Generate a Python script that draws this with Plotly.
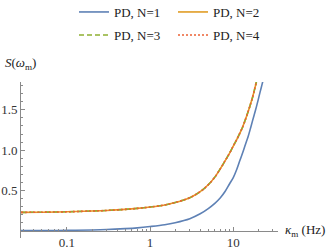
import plotly.graph_objects as go
import math

# kappa_m (Hz) sample points
kappa_n1 = [0.028, 0.05, 0.1, 0.2, 0.3, 0.5, 0.7, 1, 1.5, 2, 3, 4, 5, 6, 7, 8, 9, 10,
            11, 12, 13, 14, 15, 16, 17, 18, 19, 20, 21, 22, 23]
s_n1 = [0.001, 0.0025, 0.005, 0.010, 0.015, 0.026, 0.036, 0.052, 0.075, 0.10, 0.15, 0.21,
        0.275, 0.34, 0.41, 0.49, 0.58, 0.66, 0.76, 0.87, 0.97, 1.07, 1.16, 1.26, 1.36,
        1.45, 1.54, 1.63, 1.72, 1.80, 1.88]

kappa_n2 = [0.028, 0.05, 0.1, 0.2, 0.3, 0.5, 0.7, 1, 1.5, 2, 3, 4, 5, 6, 7, 8, 9, 10,
            11, 12, 13, 14, 15, 16, 17, 18, 19, 20]
s_n2 = [0.228, 0.230, 0.235, 0.245, 0.252, 0.265, 0.277, 0.294, 0.32, 0.35, 0.41, 0.485,
        0.57, 0.665, 0.77, 0.87, 0.96, 1.05, 1.13, 1.21, 1.29, 1.38, 1.47, 1.56, 1.65,
        1.75, 1.85, 1.95]

# N=3 and N=4 coincide with N=2 in the reference
s_n3 = list(s_n2)
s_n4 = list(s_n2)

series_names = ["PD, N=1", "PD, N=2", "PD, N=3", "PD, N=4"]
colors = ["#5E81B5", "#E19C24", "#8FB032", "#EB6235"]

x_major = [0.1, 1, 10]
x_major_text = ["0.1", "1", "10"]
x_minor = [0.03, 0.04, 0.05, 0.06, 0.07, 0.08, 0.09, 0.2, 0.3, 0.4, 0.5, 0.6, 0.7, 0.8,
           0.9, 2, 3, 4, 5, 6, 7, 8, 9, 20, 30]
y_major = [0.5, 1.0, 1.5]
y_major_text = ["0.5", "1.0", "1.5"]
y_minor = [0.1, 0.2, 0.3, 0.4, 0.6, 0.7, 0.8, 0.9, 1.1, 1.2, 1.3, 1.4, 1.6, 1.7, 1.8]

FONT = "Liberation Serif, Times New Roman, serif"
AX = "#8a8a8a"

fig = go.Figure()
fig.add_trace(go.Scatter(x=kappa_n1, y=s_n1, mode="lines", name=series_names[0], legend="legend",
                         line=dict(color=colors[0], width=1.6, shape="spline")))
fig.add_trace(go.Scatter(x=kappa_n2, y=s_n2, mode="lines", name=series_names[1], legend="legend2",
                         line=dict(color=colors[1], width=1.6, shape="spline")))
fig.add_trace(go.Scatter(x=kappa_n2, y=s_n3, mode="lines", name=series_names[2], legend="legend3",
                         line=dict(color=colors[2], width=1.6, dash="5px,3px", shape="spline")))
fig.add_trace(go.Scatter(x=kappa_n2, y=s_n4, mode="lines", name=series_names[3], legend="legend4",
                         line=dict(color=colors[3], width=1.6, dash="2px,2px", shape="spline")))

ymin, ymax = -0.09, 1.845
xpos = (0 - ymin) / (ymax - ymin)

W, H = 332, 252
leg_common = dict(orientation="h", xref="container", yref="container",
                  xanchor="left", yanchor="middle",
                  font=dict(family=FONT, size=13, color="#222222"),
                  bgcolor="rgba(0,0,0,0)")
col_x = [74 / W, 173 / W]
row_y = [1 - 12 / H, 1 - 35 / H]

fig.update_layout(
    width=W, height=H,
    margin=dict(l=21, r=54, t=82, b=14, autoexpand=False),
    paper_bgcolor="white", plot_bgcolor="white",
    font=dict(family=FONT, size=13, color="#333333"),
    showlegend=True,
    legend=dict(x=col_x[0], y=row_y[0], **leg_common),
    legend2=dict(x=col_x[1], y=row_y[0], **leg_common),
    legend3=dict(x=col_x[0], y=row_y[1], **leg_common),
    legend4=dict(x=col_x[1], y=row_y[1], **leg_common),
    xaxis=dict(type="log", range=[math.log10(0.028), math.log10(34.5)],
               anchor="free", position=xpos,
               showline=True, linecolor=AX, linewidth=1,
               showgrid=False, zeroline=False,
               tickmode="array", tickvals=x_major, ticktext=x_major_text,
               ticks="inside", ticklen=4, tickcolor=AX, tickwidth=1,
               minor=dict(tickmode="array", tickvals=x_minor, ticks="inside",
                          ticklen=2, tickcolor=AX, tickwidth=1, showgrid=False),
               tickfont=dict(family=FONT, size=13, color="#333333")),
    yaxis=dict(range=[ymin, ymax],
               showline=True, linecolor=AX, linewidth=1,
               showgrid=False, zeroline=False,
               tickmode="array", tickvals=y_major, ticktext=y_major_text,
               ticks="inside", ticklen=4, tickcolor=AX, tickwidth=1,
               minor=dict(tickmode="array", tickvals=y_minor, ticks="inside",
                          ticklen=2, tickcolor=AX, tickwidth=1, showgrid=False),
               tickfont=dict(family=FONT, size=13, color="#333333")),
    annotations=[
        dict(text="<i>S</i>(<i>ω</i><sub>m</sub>)", xref="paper", yref="paper",
             x=-0.07, y=1.12, xanchor="left", yanchor="middle", showarrow=False,
             font=dict(family=FONT, size=13, color="#222222")),
        dict(text="<i>κ</i><sub>m</sub> (Hz)", xref="paper", yref="paper",
             x=1.02, y=xpos, xanchor="left", yanchor="middle", showarrow=False,
             font=dict(family=FONT, size=13, color="#222222")),
    ],
)

fig.write_html("out.html", config={"displayModeBar": False},
               post_script="document.body.style.margin='0';")
